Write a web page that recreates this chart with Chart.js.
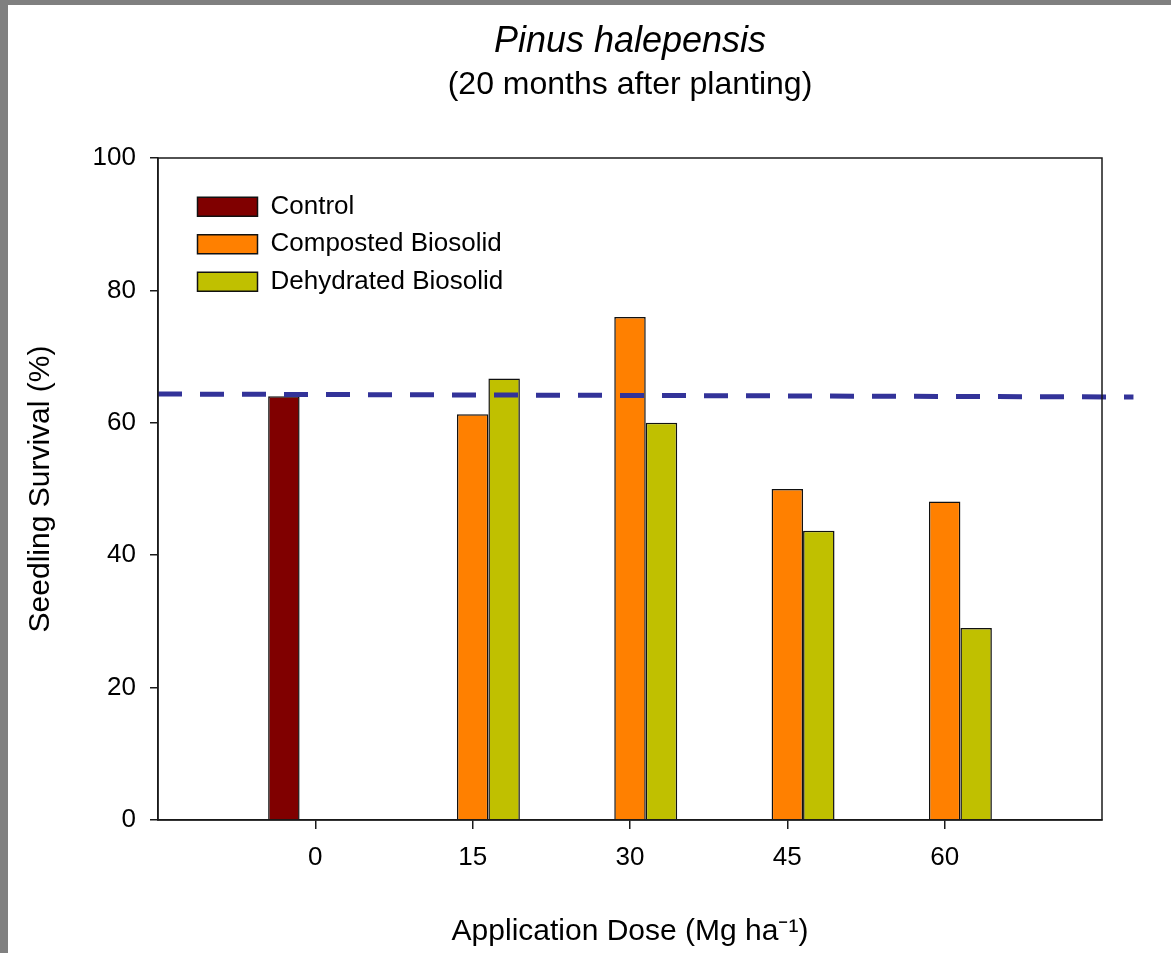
<!DOCTYPE html>
<html>
<head>
<meta charset="utf-8">
<title>Pinus halepensis – seedling survival</title>
<script src="https://cdn.jsdelivr.net/npm/chart.js@4/dist/chart.umd.min.js"></script>
<style>
  html, body { margin: 0; padding: 0; background: #808080; }
  #wrap { position: absolute; left: 8px; top: 5px; width: 1163px; height: 948px; background: #ffffff; }
  canvas { display: block; }
</style>
</head>
<body>
<div id="wrap"><canvas id="chart" width="1163" height="948"></canvas></div>
<script>
// Application doses (Mg ha-1) and seedling survival (%) per treatment
const doses = [0, 15, 30, 45, 60];
const controlSurvival = [64.0, null, null, null, null];
const compostedSurvival = [null, 61.3, 76.0, 50.0, 48.1];
const dehydratedSurvival = [null, 66.7, 60.0, 43.7, 29.0];

// Dashed reference level across the plot
const referenceX = [-15, 78];
const referenceY = [64.35, 63.9];

const yTicks = [0, 20, 40, 60, 80, 100];

const FONT = "'Liberation Sans', Arial, Helvetica, sans-serif";
const toPoints = (xs, ys) => xs.map((x, i) => ({ x: x, y: ys[i] }));

// Frame around the plotting area (top and right sides included)
const plotFrame = {
  id: 'plotFrame',
  afterDatasetsDraw(chart) {
    const { ctx, chartArea: a } = chart;
    ctx.save();
    ctx.strokeStyle = '#1a1a1a';
    ctx.lineWidth = 1.5;
    ctx.strokeRect(a.left, a.top, a.right - a.left, a.bottom - a.top);
    ctx.restore();
  }
};

// Place the legend inside the plot, near its top-left corner
const legendPlacement = {
  id: 'legendPlacement',
  afterLayout(chart) {
    const lg = chart.legend;
    if (!lg) return;
    const pad = lg.options.labels.padding;
    lg.left = 189.5 - pad;
    lg.top = 188.8 - pad;
    lg.right = chart.chartArea.right;
    lg.bottom = chart.chartArea.bottom;
  }
};

const barStyle = {
  borderColor: '#111111',
  borderWidth: 1.5,
  categoryPercentage: 0.6,
  barPercentage: 1.0,
  order: 1
};

new Chart(document.getElementById('chart'), {
  type: 'bar',
  data: {
    datasets: [
      Object.assign({
        label: 'Control',
        data: toPoints(doses, controlSurvival),
        backgroundColor: '#800000'
      }, barStyle),
      Object.assign({
        label: 'Composted Biosolid',
        data: toPoints(doses, compostedSurvival),
        backgroundColor: '#FF8000'
      }, barStyle),
      Object.assign({
        label: 'Dehydrated Biosolid',
        data: toPoints(doses, dehydratedSurvival),
        backgroundColor: '#C0C000'
      }, barStyle),
      {
        type: 'line',
        label: 'Reference level',
        data: toPoints(referenceX, referenceY),
        borderColor: '#333399',
        borderWidth: 5,
        borderDash: [24, 18],
        borderCapStyle: 'butt',
        pointRadius: 0,
        fill: false,
        tension: 0,
        clip: false,
        order: 0
      }
    ]
  },
  options: {
    responsive: false,
    animation: false,
    devicePixelRatio: 1,
    layout: { padding: { left: 0, right: 69, top: 0, bottom: 0 } },
    plugins: {
      title: {
        display: true,
        fullSize: false,
        text: 'Pinus halepensis',
        color: '#000',
        font: { family: FONT, size: 36, style: 'italic', weight: 'normal', lineHeight: 1.2 },
        padding: { top: 15, bottom: 0 }
      },
      subtitle: {
        display: true,
        fullSize: false,
        text: '(20 months after planting)',
        color: '#000',
        font: { family: FONT, size: 32, weight: 'normal', lineHeight: 1.2 },
        padding: { top: 3, bottom: 53.4 }
      },
      legend: {
        display: true,
        position: 'chartArea',
        align: 'start',
        labels: {
          boxWidth: 60,
          boxHeight: 19,
          padding: 11.5,
          color: '#000',
          font: { family: FONT, size: 26 },
          filter: (item) => item.datasetIndex < 3
        }
      },
      tooltip: { enabled: false }
    },
    scales: {
      x: {
        type: 'linear',
        min: -15,
        max: 75,
        offset: false,
        afterBuildTicks: (s) => { s.ticks = s.ticks.filter(t => t.value >= 0 && t.value <= 60); },
        afterFit: (s) => { s.height = 133; },
        ticks: {
          stepSize: 15,
          padding: 13,
          color: '#000',
          font: { family: FONT, size: 26 },
          maxRotation: 0
        },
        grid: {
          offset: false,
          drawOnChartArea: false,
          drawTicks: true,
          tickLength: 9,
          tickColor: '#1a1a1a',
          lineWidth: 1.5
        },
        border: { display: true, color: '#1a1a1a', width: 1.5 },
        title: {
          display: true,
          text: 'Application Dose (Mg ha\u207B\u00B9)',
          color: '#000',
          font: { family: FONT, size: 30, lineHeight: 1.2 },
          padding: { top: 0, bottom: 3.4 }
        }
      },
      y: {
        type: 'linear',
        min: 0,
        max: 100,
        afterBuildTicks: (s) => { s.ticks = yTicks.map(v => ({ value: v })); },
        afterFit: (s) => { s.width = 150; },
        ticks: {
          stepSize: 20,
          padding: 14,
          color: '#000',
          font: { family: FONT, size: 26 }
        },
        grid: {
          drawOnChartArea: false,
          drawTicks: true,
          tickLength: 8,
          tickColor: '#1a1a1a',
          lineWidth: 1.5
        },
        border: { display: true, color: '#1a1a1a', width: 1.5 },
        title: {
          display: true,
          text: 'Seedling Survival (%)',
          color: '#000',
          font: { family: FONT, size: 30, lineHeight: 1.2 },
          padding: { top: 14.5, bottom: 0 }
        }
      }
    }
  },
  plugins: [plotFrame, legendPlacement]
});
</script>
</body>
</html>
